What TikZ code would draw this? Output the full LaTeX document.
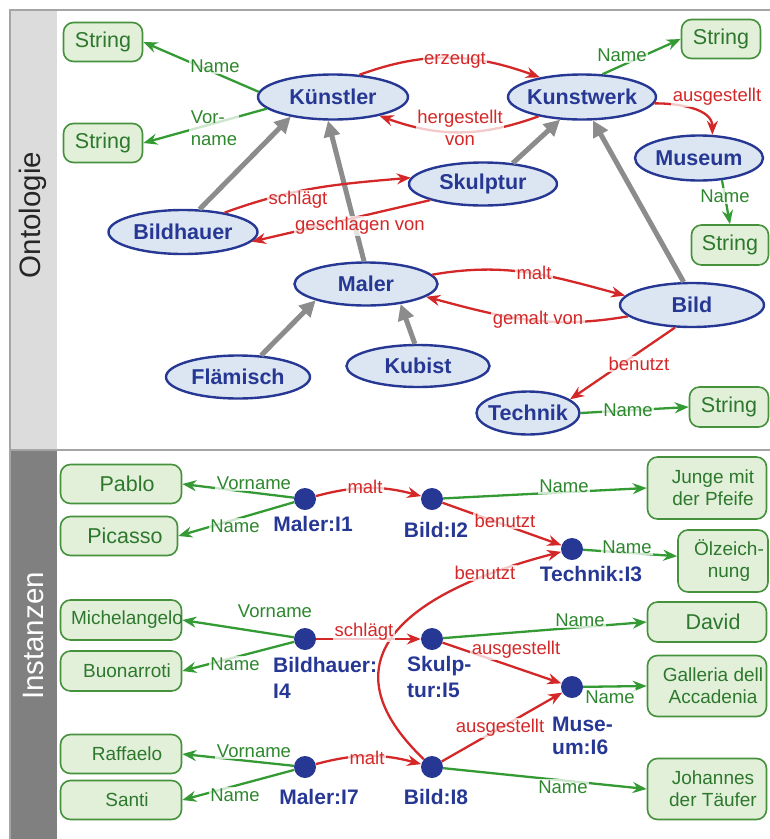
\documentclass[tikz,border=0pt]{standalone}
\usepackage{fontspec}
\setmainfont{Liberation Sans}
\usetikzlibrary{shapes.geometric,arrows.meta}

\definecolor{nblue}{RGB}{38,56,148}
\definecolor{nfill}{RGB}{220,230,242}
\definecolor{ered}{RGB}{212,40,40}
\definecolor{egreen}{RGB}{52,155,52}
\definecolor{ltext}{RGB}{45,135,45}
\definecolor{bfill}{RGB}{226,240,218}
\definecolor{bdraw}{RGB}{70,145,60}
\definecolor{btext}{RGB}{45,120,45}
\definecolor{isagray}{RGB}{140,140,140}
\definecolor{stripA}{RGB}{220,220,220}
\definecolor{stripB}{RGB}{128,128,128}
\definecolor{framecol}{RGB}{165,165,165}

% zero-width content so the shape size is set by the minimum sizes only
\newcommand{\cz}[1]{\makebox[0pt]{#1}}
\newcommand{\bz}[1]{\makebox[0pt]{\hspace*{12pt}#1}}

\begin{document}
\begin{tikzpicture}[x=1pt,y=-1pt,
  cls/.style={ellipse, draw=nblue, line width=2.4pt, fill=nfill, text=nblue,
    font=\fontsize{21.5}{24}\selectfont\bfseries, inner sep=0pt},
  lit/.style={rectangle, rounded corners=10pt, draw=bdraw, line width=1.6pt,
    fill=bfill, text=btext, align=center, inner sep=0pt},
  bigtxt/.style={font=\fontsize{21.5}{24}\selectfont},
  smalltxt/.style={font=\fontsize{19}{22}\selectfont},
  inst/.style={circle, fill=nblue, minimum size=22pt, inner sep=0pt},
  ilab/.style={text=nblue, font=\fontsize{21}{26}\selectfont\bfseries, align=left, inner sep=0pt},
  isa/.style={draw=isagray, line width=5pt, -{Triangle[length=16pt,width=16pt]}},
  rel/.style={draw=ered, line width=2.3pt, -{Stealth[length=14pt,width=11pt]}},
  att/.style={draw=egreen, line width=2.3pt, -{Stealth[length=14pt,width=11pt]}},
  elab/.style={font=\fontsize{18.5}{21.5}\selectfont, fill=white, fill opacity=0.75,
    text opacity=1, inner sep=1.5pt, align=center},
  rlab/.style={elab, text=ered},
  glab/.style={elab, text=ltext},
]
\useasboundingbox (0,0) rectangle (770,839);

% side strips and frame
\fill[stripA] (10,10) rectangle (57,450);
\fill[stripB] (10,450) rectangle (57,839);
\draw[framecol, line width=2pt] (10,839) -- (10,10) -- (770,10);
\draw[framecol, line width=2.5pt] (10,450) -- (770,450);
\node[rotate=90, font=\fontsize{29.5}{32}\selectfont, text=black!85, inner sep=0pt] (ontolabel) at (33,215) {Ontologie};
\node[rotate=90, font=\fontsize{29.5}{32}\selectfont, text=white, inner sep=0pt] (instlabel) at (33,636) {Instanzen};

% ---------- ontology: classes ----------
\node[cls, minimum width=150pt, minimum height=45pt] (kuen)  at (333,97)  {\cz{Künstler}};
\node[cls, minimum width=148pt, minimum height=45pt] (kunst) at (582,97)  {\cz{Kunstwerk}};
\node[cls, minimum width=128pt, minimum height=45pt] (mus)   at (699,158) {\cz{Museum}};
\node[cls, minimum width=148pt, minimum height=43pt] (skul)  at (483,184) {\cz{Skulptur}};
\node[cls, minimum width=149pt, minimum height=44pt] (bildh) at (183,232) {\cz{Bildhauer}};
\node[cls, minimum width=143pt, minimum height=43pt] (maler) at (366,284) {\cz{Maler}};
\node[cls, minimum width=144pt, minimum height=44pt] (bild)  at (692,305) {\cz{Bild}};
\node[cls, minimum width=144pt, minimum height=43pt] (flaem) at (238,377) {\cz{Flämisch}};
\node[cls, minimum width=143pt, minimum height=42pt] (kub)   at (418,366) {\cz{Kubist}};
\node[cls, minimum width=103pt, minimum height=43pt] (tech)  at (528,413) {\cz{Technik}};

% literal types
\node[lit, bigtxt, minimum width=79pt, minimum height=39pt] (s1) at (103,42)  {\cz{String}};
\node[lit, bigtxt, minimum width=79pt, minimum height=39pt] (s2) at (103,143) {\cz{String}};
\node[lit, bigtxt, minimum width=79pt, minimum height=39pt] (s3) at (721,39)  {\cz{String}};
\node[lit, bigtxt, minimum width=77pt, minimum height=40pt] (s4) at (730,245) {\cz{String}};
\node[lit, bigtxt, minimum width=79pt, minimum height=40pt] (s5) at (729,407) {\cz{String}};

% subclass arrows
\draw[isa] (bildh.54) -- (kuen.205);
\draw[isa] (maler.95) -- (kuen.258);
\draw[isa] (skul.35) -- (kunst.226);
\draw[isa] (bild.110) -- (kunst.295);
\draw[isa] (flaem.43) -- (maler.198);
\draw[isa] (kub.98) -- (maler.-30);

% attributes
\draw[att] (kuen.176) -- (s1.east);
\draw[att] (kuen.190) -- (s2.east);
\draw[att] (kunst.48) -- (s3.west);
\draw[att] (mus.-44) -- (s4.north);
\draw[att] (tech.east) -- (s5.west);

% relations
\draw[rel] (kuen.40) to[out=20,in=160] (kunst.155);
\draw[rel] (kunst.204) to[out=200,in=-20] (kuen.338);
\draw[rel] (kunst.-5) to[out=0,in=90] (mus.60);
\draw[rel] (bildh.25) to[out=20,in=185] (skul.175);
\draw[rel] (skul.197) -- (bildh.-8);
\draw[rel] (maler.8) to[out=10,in=165] (bild.172);
\draw[rel] (bild.190) to[out=190,in=-15] (maler.-12);
\draw[rel] (bild.233) -- (tech.18);

% edge labels
\node[glab] (ln1) at (215,66) {Name};
\node[glab, align=left] (ln2) at (214,128) {Vor-\\name};
\node[rlab] (lr1) at (455,60) {erzeugt};
\node[rlab] (lr2) at (460,128) {hergestellt\\von};
\node[glab] (ln3) at (622,55) {Name};
\node[rlab] (lr3) at (717,97) {ausgestellt};
\node[glab] (ln4) at (725,196) {Name};
\node[rlab] (lr4) at (298,200) {schlägt};
\node[rlab] (lr5) at (360,226) {geschlagen von};
\node[rlab] (lr6) at (534,273) {malt};
\node[rlab] (lr7) at (538,320) {gemalt von};
\node[rlab] (lr8) at (639,364) {benutzt};
\node[glab] (ln5) at (628,410) {Name};

% ---------- instances ----------
\node[inst] (i1) at (305,499) {};
\node[inst] (i2) at (432,499) {};
\node[inst] (i3) at (572,549) {};
\node[inst] (i4) at (305,639) {};
\node[inst] (i5) at (432,639) {};
\node[inst] (i6) at (572,687) {};
\node[inst] (i7) at (305,767) {};
\node[inst] (i8) at (432,767) {};

\node[ilab] (i1l) at (313,524) {Maler:I1};
\node[ilab] (i2l) at (436,530) {Bild:I2};
\node[ilab] (i3l) at (591,574) {Technik:I3};
\node[ilab, anchor=north west] (i4l) at (273,657) {Bildhauer:\\I4};
\node[ilab, anchor=north west] (i5l) at (407,656) {Skulp-\\tur:I5};
\node[ilab, anchor=north west, font=\fontsize{21}{23}\selectfont\bfseries] (i6l) at (552,717) {Muse-\\um:I6};
\node[ilab] (i7l) at (319,797) {Maler:I7};
\node[ilab] (i8l) at (436,797) {Bild:I8};

% literal values
\node[lit, bigtxt,   minimum width=121pt, minimum height=39pt] (pablo)   at (121,484) {\bz{Pablo}};
\node[lit, bigtxt,   minimum width=117pt, minimum height=39pt] (picasso) at (119,536) {\bz{Picasso}};
\node[lit, smalltxt, minimum width=121pt, minimum height=40pt] (mich)    at (121,620) {\bz{Michelangelo}};
\node[lit, smalltxt, minimum width=121pt, minimum height=40pt] (buon)    at (121,671) {\bz{Buonarroti}};
\node[lit, smalltxt, minimum width=121pt, minimum height=39pt] (raff)    at (121,754) {\bz{Raffaelo}};
\node[lit, smalltxt, minimum width=121pt, minimum height=39pt] (santi)   at (121,800) {\bz{Santi}};
\node[lit, smalltxt, minimum width=119pt, minimum height=62pt] (junge)   at (707,488) {\bz{Junge mit}\\\bz{der Pfeife}};
\node[lit, smalltxt, minimum width=90pt,  minimum height=62pt] (oel)     at (723,561) {\bz{Ölzeich-}\\\bz{nung}};
\node[lit, bigtxt,   minimum width=119pt, minimum height=40pt] (david)   at (707,622) {\bz{David}};
\node[lit, smalltxt, minimum width=119pt, minimum height=61pt] (gall)    at (707,686) {\bz{Galleria dell}\\\bz{Accadenia}};
\node[lit, smalltxt, minimum width=119pt, minimum height=61pt] (joh)     at (707,789) {\bz{Johannes}\\\bz{der Täufer}};

% instance attributes
\draw[att] (i1) -- (pablo.east);
\draw[att] (i1) -- (picasso.east);
\draw[att] (i2) -- (junge.west);
\draw[att] (i3) -- (oel.174);
\draw[att] (i4) -- (mich.east);
\draw[att] (i4) -- (buon.east);
\draw[att] (i5) -- (david.west);
\draw[att] (i6) -- (gall.west);
\draw[att] (i7) -- (raff.east);
\draw[att] (i7) -- (santi.east);
\draw[att] (i8) -- (joh.west);

% instance relations
\draw[rel] (i1) to[bend left=15] (i2);
\draw[rel] (i2) -- (i3);
\draw[rel] (i8) .. controls (325,665) and (395,595) .. (i3);
\draw[rel] (i4) -- (i5);
\draw[rel] (i5) -- (i6);
\draw[rel] (i8) -- (i6);
\draw[rel] (i7) to[bend left=15] (i8);

% instance edge labels
\node[glab] (vn1) at (254,483) {Vorname};
\node[glab] (nm1) at (235,526) {Name};
\node[rlab] (ml1) at (365,487) {malt};
\node[glab] (nm2) at (564,486) {Name};
\node[rlab] (bn1) at (505,521) {benutzt};
\node[glab] (nm3) at (627,547) {Name};
\node[rlab] (bn2) at (485,573) {benutzt};
\node[glab] (vn4) at (275,611) {Vorname};
\node[glab] (nm4) at (235,664) {Name};
\node[rlab] (sg4) at (364,632) {schlägt};
\node[glab] (nm5) at (580,620) {Name};
\node[rlab] (au5) at (516,650) {ausgestellt};
\node[glab] (nm6) at (610,697) {Name};
\node[rlab] (au8) at (500,728) {ausgestellt};
\node[glab] (vn7) at (254,751) {Vorname};
\node[glab] (nm7) at (235,795) {Name};
\node[rlab] (ml7) at (367,758) {malt};
\node[glab] (nm8) at (563,787) {Name};
\end{tikzpicture}
\end{document}
